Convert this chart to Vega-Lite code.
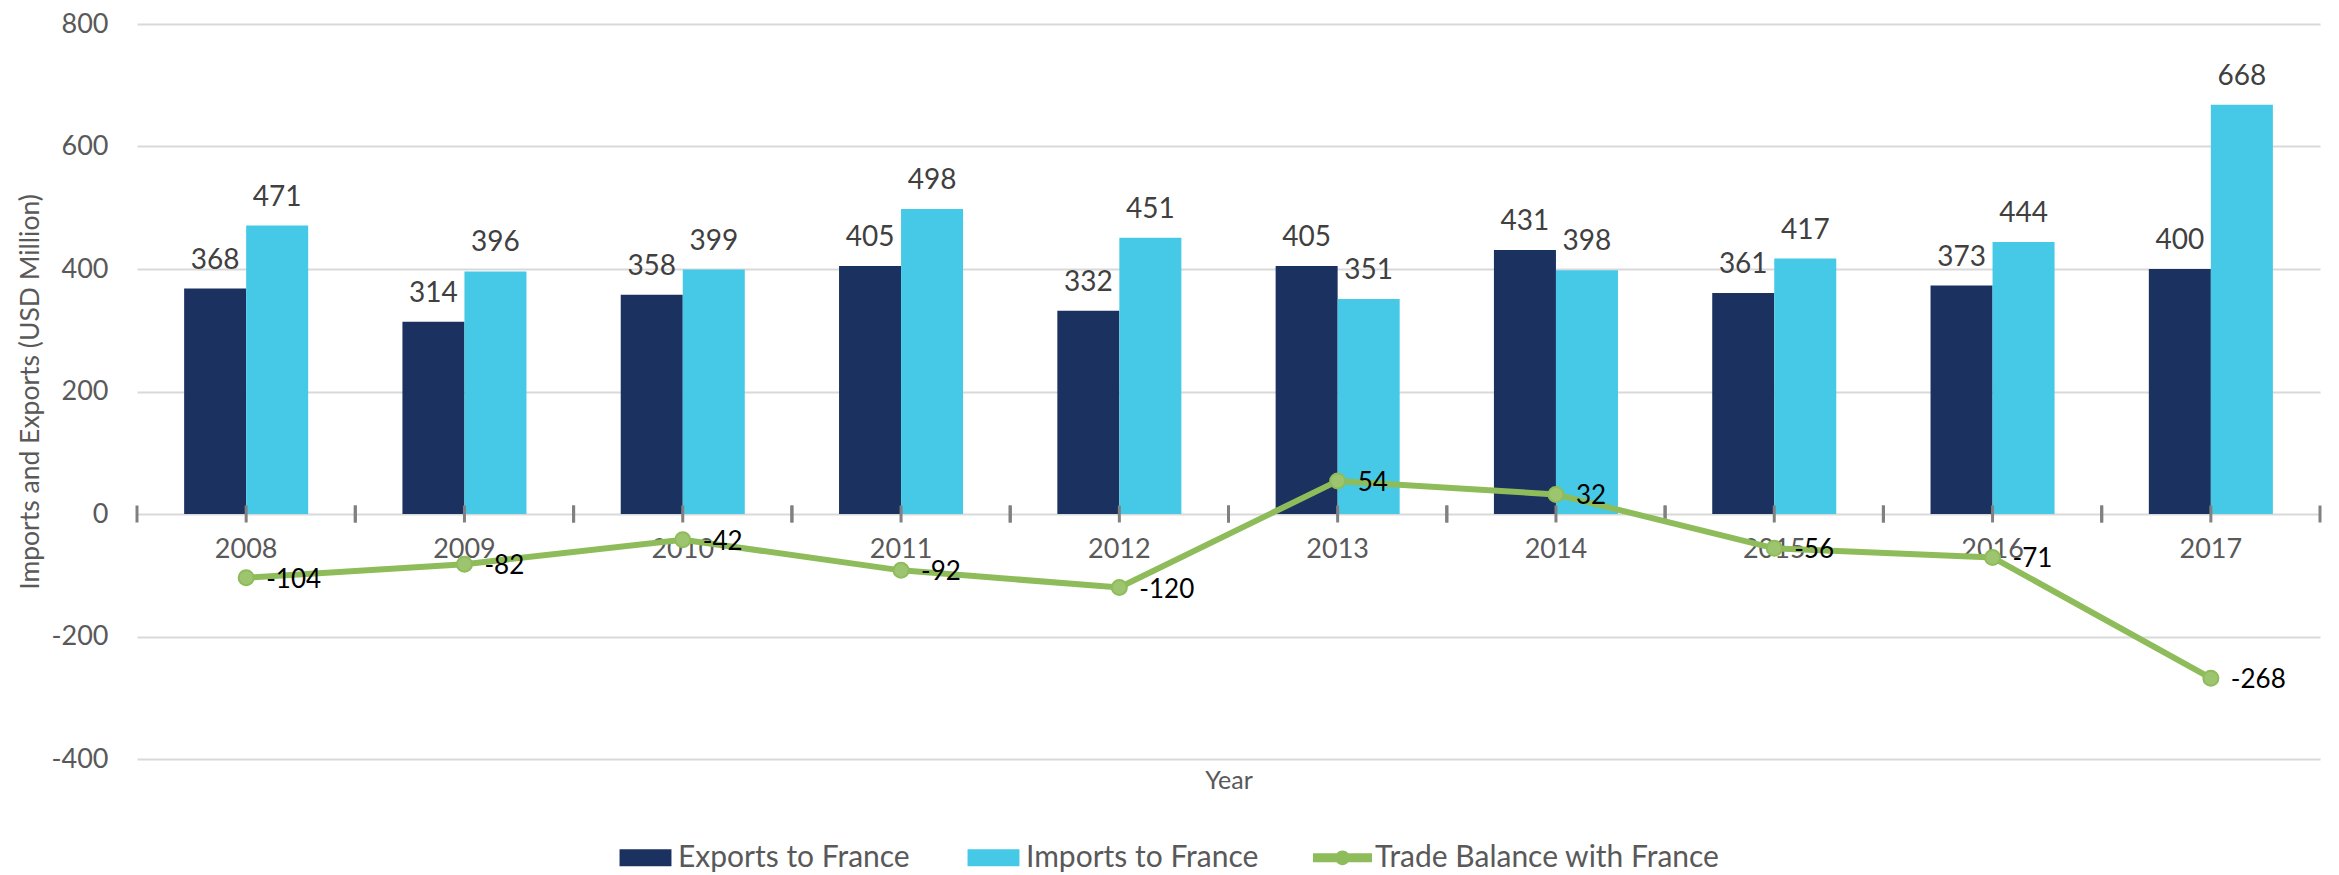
{
  "$schema": "https://vega.github.io/schema/vega-lite/v6.json",
  "width": 2183,
  "height": 735,
  "autosize": {"type": "none"},
  "padding": {"left": 137, "top": 24, "right": 19, "bottom": 116},
  "background": "white",
  "config": {"font": "Lato", "view": {"stroke": null}},
  "datasets": {
    "bars": [
      {"year": "2008", "series": "Exports to France", "value": 368},
      {"year": "2008", "series": "Imports to France", "value": 471},
      {"year": "2009", "series": "Exports to France", "value": 314},
      {"year": "2009", "series": "Imports to France", "value": 396},
      {"year": "2010", "series": "Exports to France", "value": 358},
      {"year": "2010", "series": "Imports to France", "value": 399},
      {"year": "2011", "series": "Exports to France", "value": 405},
      {"year": "2011", "series": "Imports to France", "value": 498},
      {"year": "2012", "series": "Exports to France", "value": 332},
      {"year": "2012", "series": "Imports to France", "value": 451},
      {"year": "2013", "series": "Exports to France", "value": 405},
      {"year": "2013", "series": "Imports to France", "value": 351},
      {"year": "2014", "series": "Exports to France", "value": 431},
      {"year": "2014", "series": "Imports to France", "value": 398},
      {"year": "2015", "series": "Exports to France", "value": 361},
      {"year": "2015", "series": "Imports to France", "value": 417},
      {"year": "2016", "series": "Exports to France", "value": 373},
      {"year": "2016", "series": "Imports to France", "value": 444},
      {"year": "2017", "series": "Exports to France", "value": 400},
      {"year": "2017", "series": "Imports to France", "value": 668}
    ],
    "balance": [
      {"year": "2008", "series": "Trade Balance with France", "value": -104},
      {"year": "2009", "series": "Trade Balance with France", "value": -82},
      {"year": "2010", "series": "Trade Balance with France", "value": -42},
      {"year": "2011", "series": "Trade Balance with France", "value": -92},
      {"year": "2012", "series": "Trade Balance with France", "value": -120},
      {"year": "2013", "series": "Trade Balance with France", "value": 54},
      {"year": "2014", "series": "Trade Balance with France", "value": 32},
      {"year": "2015", "series": "Trade Balance with France", "value": -56},
      {"year": "2016", "series": "Trade Balance with France", "value": -71},
      {"year": "2017", "series": "Trade Balance with France", "value": -268}
    ]
  },
  "layer": [
    {
      "data": {"name": "bars"},
      "mark": {"type": "bar"},
      "encoding": {
        "x": {
          "field": "year", "type": "nominal",
          "scale": {"paddingInner": 0, "paddingOuter": 0},
          "axis": {
            "orient": "bottom", "offset": -245, "domain": false, "ticks": false, "grid": false,
            "labelAngle": 0, "labelFont": "Lato", "labelFontSize": 27, "labelColor": "#595959",
            "labelPadding": 22,
            "title": "Year", "titleFont": "Lato", "titleFontSize": 25, "titleFontWeight": "normal",
            "titleColor": "#595959", "titleY": 266, "titleBaseline": "middle"
          }
        },
        "xOffset": {
          "field": "series", "type": "nominal",
          "scale": {"domain": ["Exports to France", "Imports to France"], "paddingInner": 0, "paddingOuter": 0.76}
        },
        "y": {
          "field": "value", "type": "quantitative",
          "scale": {"domain": [-400, 800], "nice": false, "zero": false},
          "axis": {
            "values": [-400, -200, 0, 200, 400, 600, 800],
            "labelExpr": "'' + datum.value",
            "domain": false, "ticks": false, "grid": true, "gridColor": "#D9D9D9", "gridWidth": 2,
            "labelFont": "Lato", "labelFontSize": 27, "labelColor": "#595959", "labelPadding": 29,
            "title": "Imports and Exports (USD Million)", "titleFont": "Lato", "titleFontSize": 26.5,
            "titleFontWeight": "normal", "titleColor": "#595959", "titleLimit": 0,
            "titleX": -107, "titleY": 367.5, "titleAngle": 270, "titleAlign": "center", "titleBaseline": "middle"
          }
        },
        "color": {
          "field": "series", "type": "nominal",
          "scale": {
            "domain": ["Exports to France", "Imports to France", "Trade Balance with France"],
            "range": ["#1B3260", "#45C9E6", "#8FBC5A"]
          },
          "legend": {
            "orient": "none", "legendX": 479, "legendY": 804, "direction": "horizontal", "title": null,
            "padding": 0, "labelFont": "Lato", "labelFontSize": 30, "labelColor": "#595959", "labelLimit": 600,
            "symbolSize": 3481, "labelOffset": 3, "columnPadding": 54, "symbolStrokeWidth": 0,
            "encode": {
              "symbols": {
                "update": {
                  "shape": {"signal": "datum.value === 'Trade Balance with France' ? 'M-1,-0.15L1,-0.15L1,0.15L-1,0.15Z M0.25,0A0.25,0.25 0 1,1 -0.25,0A0.25,0.25 0 1,1 0.25,0Z' : 'M-0.88,-0.29L0.88,-0.29L0.88,0.29L-0.88,0.29Z'"},
                  "fill": {"scale": "color", "field": "value"},
                  "fillOpacity": {"value": 1},
                  "opacity": {"value": 1},
                  "strokeWidth": {"value": 0}
                }
              }
            }
          }
        }
      }
    },
    {
      "data": {"name": "bars"},
      "mark": {"type": "text", "baseline": "alphabetic", "align": "center", "dy": -20, "fontSize": 28, "color": "#404040", "font": "Lato"},
      "encoding": {
        "x": {"field": "year", "type": "nominal"},
        "xOffset": {"field": "series", "type": "nominal", "scale": {"domain": ["Exports to France", "Imports to France"], "paddingInner": 0, "paddingOuter": 0.76}},
        "y": {"field": "value", "type": "quantitative"},
        "text": {"field": "value", "type": "nominal"}
      }
    },
    {
      "mark": {"type": "rule", "color": "#808080", "strokeWidth": 3},
      "encoding": {"y": {"datum": 0}}
    },
    {
      "data": {"name": "balance"},
      "mark": {"type": "tick", "orient": "vertical", "size": 17, "thickness": 3, "color": "#808080", "opacity": 1},
      "encoding": {
        "x": {"field": "year", "type": "nominal"},
        "y": {"datum": 0}
      }
    },
    {
      "data": {"name": "balance"},
      "mark": {"type": "tick", "orient": "vertical", "size": 17, "thickness": 3, "color": "#808080", "opacity": 1},
      "encoding": {
        "x": {"field": "year", "type": "nominal", "bandPosition": 0},
        "y": {"datum": 0}
      }
    },
    {
      "data": {"name": "balance"},
      "mark": {"type": "tick", "orient": "vertical", "size": 17, "thickness": 3, "color": "#808080", "opacity": 1},
      "encoding": {
        "x": {"field": "year", "type": "nominal", "bandPosition": 1},
        "y": {"datum": 0}
      }
    },
    {
      "data": {"name": "balance"},
      "mark": {"type": "line", "strokeWidth": 6},
      "encoding": {
        "x": {"field": "year", "type": "nominal"},
        "y": {"field": "value", "type": "quantitative"},
        "color": {
          "field": "series", "type": "nominal",
          "scale": {
            "domain": ["Exports to France", "Imports to France", "Trade Balance with France"],
            "range": ["#1B3260", "#45C9E6", "#8FBC5A"]
          }
        }
      }
    },
    {
      "data": {"name": "balance"},
      "mark": {"type": "point", "shape": "circle", "filled": true, "size": 225, "fill": "#9DC56F", "stroke": "#8FBC5A", "strokeWidth": 2, "opacity": 1},
      "encoding": {
        "x": {"field": "year", "type": "nominal"},
        "y": {"field": "value", "type": "quantitative"}
      }
    },
    {
      "data": {"name": "balance"},
      "mark": {"type": "text", "align": "left", "baseline": "middle", "dx": 20, "dy": 2, "fontSize": 26, "color": "#000000", "font": "Lato"},
      "encoding": {
        "x": {"field": "year", "type": "nominal"},
        "y": {"field": "value", "type": "quantitative"},
        "text": {"field": "value", "type": "nominal"}
      }
    }
  ]
}
